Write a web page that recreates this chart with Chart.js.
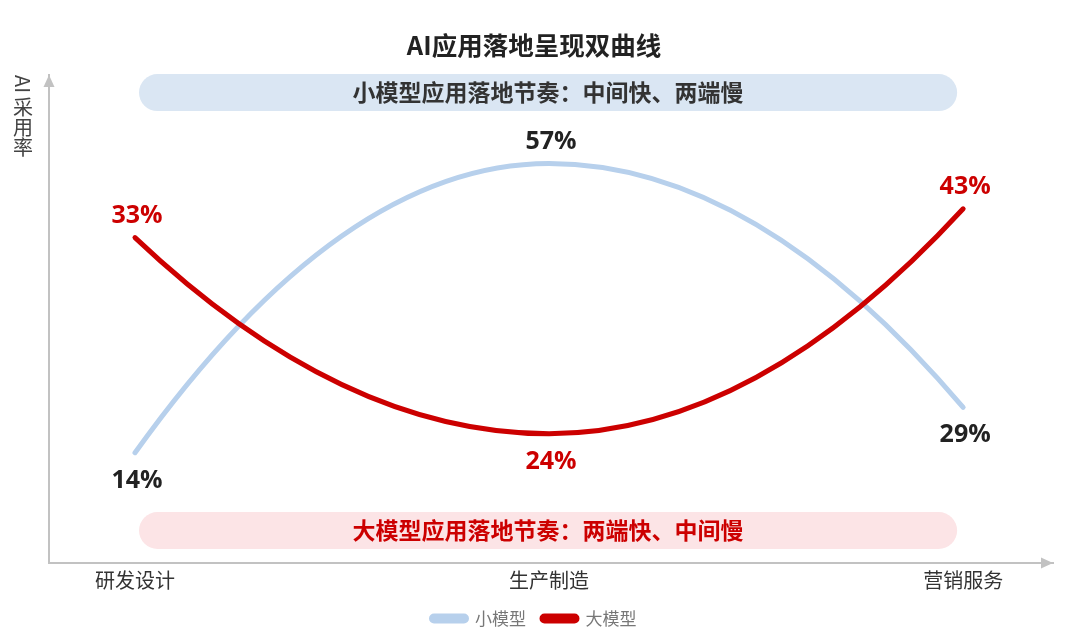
<!DOCTYPE html>
<html>
<head>
<meta charset="utf-8">
<script src="https://cdn.jsdelivr.net/npm/chart.js@4.4.1/dist/chart.umd.min.js"></script>
<style>
  html, body { margin: 0; padding: 0; background: #ffffff; }
  #wrap { width: 1080px; height: 637px; position: relative; }
</style>
</head>
<body>
<div id="wrap"><canvas id="chart"></canvas></div>
<script>
// ---------- data ----------
const chartTitle = 'AI应用落地呈现双曲线';
const yAxisTitle = 'AI采用率';
const stages = ['研发设计', '生产制造', '营销服务'];
const seriesNames = ['小模型', '大模型'];
const smallModelRate = [14, 57, 29];   // labelled adoption rates (%)
const largeModelRate = [33, 24, 43];
// heights of the curves on the schematic (unlabelled) adoption axis, 0-100
const smallModelLevel = [22.6, 81.9, 31.9];
const largeModelLevel = [66.7, 26.5, 72.6];
const bannerTexts = ['小模型应用落地节奏：中间快、两端慢', '大模型应用落地节奏：两端快、中间慢'];

// ---------- styles ----------
const BLUE = '#b7d0ec';
const RED = '#cc0000';
const AXIS = '#c2c2c2';
const CJK = '"Noto Sans CJK SC", "Noto Sans", sans-serif';

const rates = [smallModelRate, largeModelRate];
const levels = [smallModelLevel, largeModelLevel];
const labelColors = ['#222222', RED];

// Curve shaping: each segment is a half parabola with its vertex at the interior point
const curvePlugin = {
  id: 'curveShape',
  beforeDatasetDraw(chart, args) {
    const meta = args.meta;
    const line = meta.dataset;
    if (!line || typeof line.updateControlPoints !== 'function') return;
    line.updateControlPoints(chart.chartArea, 'x');
    const pts = meta.data;
    const n = pts.length;
    for (let i = 0; i < n - 1; i++) {
      const a = pts[i], b = pts[i + 1];
      const qx = (a.x + b.x) / 2;
      const qy = (i + 1 < n - 1) ? b.y : a.y;
      a.cp2x = a.x + 2 / 3 * (qx - a.x);
      a.cp2y = a.y + 2 / 3 * (qy - a.y);
      b.cp1x = b.x + 2 / 3 * (qx - b.x);
      b.cp1y = b.y + 2 / 3 * (qy - b.y);
    }
  }
};

function roundedBar(ctx, x1, y1, x2, y2) {
  const r = (y2 - y1) / 2;
  ctx.beginPath();
  ctx.moveTo(x1 + r, y1);
  ctx.lineTo(x2 - r, y1);
  ctx.arc(x2 - r, y1 + r, r, -Math.PI / 2, Math.PI / 2);
  ctx.lineTo(x1 + r, y2);
  ctx.arc(x1 + r, y1 + r, r, Math.PI / 2, Math.PI * 1.5);
  ctx.closePath();
  ctx.fill();
}

const decorPlugin = {
  id: 'decor',
  beforeDatasetsDraw(chart) {
    const {ctx, chartArea} = chart;
    const xs = chart.scales.x;
    const left = xs.getPixelForValue(0) + 4;
    const right = xs.getPixelForValue(2) - 6;
    const cx = (left + right) / 2;
    ctx.save();
    // top banner
    const t1 = chartArea.top - 1, t2 = chartArea.top + 36;
    ctx.fillStyle = '#dae6f3';
    roundedBar(ctx, left, t1, right, t2);
    // bottom banner
    const b1 = chartArea.bottom - 51, b2 = chartArea.bottom - 14;
    ctx.fillStyle = '#fce4e6';
    roundedBar(ctx, left, b1, right, b2);
    ctx.font = 'bold 23px ' + CJK;
    ctx.textAlign = 'center';
    ctx.textBaseline = 'middle';
    ctx.fillStyle = '#333333';
    ctx.fillText(bannerTexts[0], cx, (t1 + t2) / 2);
    ctx.fillStyle = RED;
    ctx.fillText(bannerTexts[1], cx, (b1 + b2) / 2);
    ctx.restore();
  },
  afterDatasetsDraw(chart) {
    const {ctx} = chart;
    ctx.save();
    ctx.font = 'bold 25px "Open Sans", "Noto Sans", sans-serif';
    ctx.textAlign = 'center';
    ctx.textBaseline = 'middle';
    chart.data.datasets.forEach((ds, di) => {
      const meta = chart.getDatasetMeta(di);
      const other = levels[1 - di];
      meta.data.forEach((pt, i) => {
        const above = levels[di][i] > other[i];
        ctx.fillStyle = labelColors[di];
        ctx.fillText(rates[di][i] + '%', pt.x + 2, above ? pt.y - 22 : pt.y + 28);
      });
    });
    ctx.restore();
  },
  afterDraw(chart) {
    const {ctx, chartArea} = chart;
    ctx.save();
    ctx.fillStyle = AXIS;
    // y arrow
    const yx = chartArea.left, yt = chartArea.top;
    ctx.beginPath();
    ctx.moveTo(yx, yt);
    ctx.lineTo(yx - 5.5, yt + 12);
    ctx.lineTo(yx + 5.5, yt + 12);
    ctx.closePath();
    ctx.fill();
    // x arrow
    const xr = chartArea.right, xb = chartArea.bottom;
    ctx.beginPath();
    ctx.moveTo(xr, xb);
    ctx.lineTo(xr - 12, xb - 5.5);
    ctx.lineTo(xr - 12, xb + 5.5);
    ctx.closePath();
    ctx.fill();
    // vertical y-axis title (Latin rotated, CJK upright)
    ctx.fillStyle = '#444444';
    ctx.font = '20px ' + CJK;
    ctx.textBaseline = 'middle';
    const tx = chartArea.left - 26;
    let ty = chartArea.top;
    const latin = yAxisTitle.match(/^[A-Za-z0-9]+/);
    let rest = yAxisTitle;
    if (latin) {
      ctx.save();
      ctx.translate(tx, ty);
      ctx.rotate(Math.PI / 2);
      ctx.textAlign = 'left';
      ctx.fillText(latin[0], 0, 0);
      ctx.restore();
      ty += ctx.measureText(latin[0]).width + 4;
      rest = yAxisTitle.slice(latin[0].length);
    }
    ctx.textAlign = 'center';
    for (const ch of rest) {
      ctx.fillText(ch, tx, ty + 10);
      ty += 20.3;
    }
    ctx.restore();
  }
};

const datasets = seriesNames.map((name, di) => ({
  label: name,
  data: levels[di].map((v, i) => ({x: i, y: v})),
  borderColor: di === 0 ? BLUE : RED,
  backgroundColor: di === 0 ? BLUE : RED,
  borderWidth: 5,
  borderCapStyle: 'round',
  tension: 0.4,
  pointRadius: 0,
  fill: false,
  order: di === 0 ? 1 : 0
}));

new Chart(document.getElementById('chart'), {
  type: 'line',
  data: {datasets},
  options: {
    responsive: true,
    maintainAspectRatio: false,
    animation: false,
    events: [],
    layout: {padding: {left: 15, right: 27, top: 0, bottom: 0}},
    scales: {
      x: {
        type: 'linear',
        min: -0.2077,
        max: 2.217,
        afterBuildTicks: (scale) => { scale.ticks = stages.map((s, i) => ({value: i})); },
        afterFit: (scale) => { scale.height = 31; },
        grid: {display: false, drawTicks: false},
        border: {display: true, color: AXIS, width: 2},
        ticks: {
          autoSkip: false,
          maxRotation: 0,
          padding: 5,
          color: '#333333',
          font: {family: CJK, size: 20},
          callback: (v) => stages[v]
        }
      },
      y: {
        type: 'linear',
        min: 0,
        max: 100,
        afterFit: (scale) => { scale.width = 34; },
        grid: {display: false, drawTicks: false},
        border: {display: true, color: AXIS, width: 2},
        ticks: {display: false}
      }
    },
    plugins: {
      title: {
        display: true,
        text: chartTitle,
        color: '#222222',
        font: {family: CJK, size: 25.5, weight: 'bold', lineHeight: 1.2},
        padding: {top: 30.5, bottom: 14}
      },
      legend: {
        display: true,
        position: 'bottom',
        maxHeight: 45,
        labels: {
          boxWidth: 35,
          boxHeight: 5,
          useBorderRadius: true,
          borderRadius: 2.5,
          padding: 16,
          color: '#777777',
          font: {family: CJK, size: 17},
          sort: (a, b) => a.datasetIndex - b.datasetIndex
        }
      },
      tooltip: {enabled: false}
    }
  },
  plugins: [curvePlugin, decorPlugin]
});
</script>
</body>
</html>
